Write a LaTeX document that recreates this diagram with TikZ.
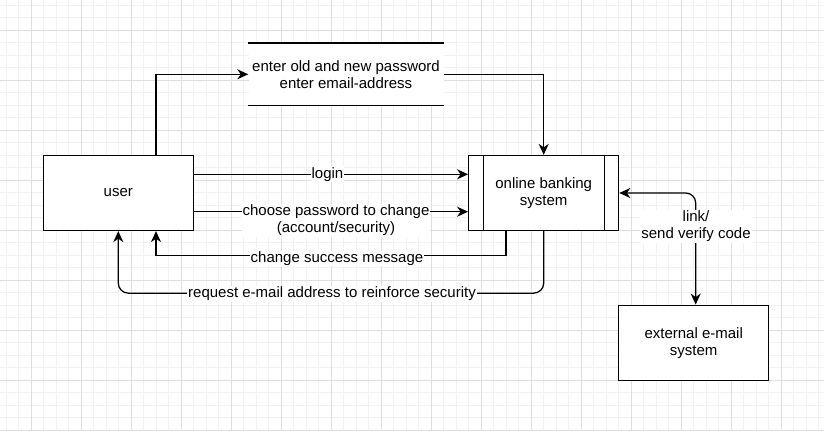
\documentclass[tikz,border=0pt]{standalone}
\usepackage{fontspec}
\setmainfont{Liberation Sans}
\usetikzlibrary{arrows.meta}
\definecolor{gminor}{HTML}{F2F2F2}
\definecolor{gmajor}{HTML}{DEDEDE}
\begin{document}
\begin{tikzpicture}[x=1pt,y=-1pt,
  font=\fontsize{15}{17}\selectfont,
  box/.style={draw, line width=1.25pt, fill=white, minimum width=150pt, minimum height=75pt, align=center, inner sep=0pt},
  arr/.style={line width=1.25pt, -{Stealth[length=11pt,width=10pt,inset=3.5pt]}},
  arrtwo/.style={line width=1.25pt, {Stealth[length=11pt,width=10pt,inset=3.5pt]}-{Stealth[length=11pt,width=10pt,inset=3.5pt]}},
  lbl/.style={fill=white, inner sep=1pt, align=center}]
\useasboundingbox (0,0) rectangle (824,431);
\fill[white] (0,0) rectangle (824,431);
% grid
\foreach \x in {6,18.5,...,824} \draw[gminor, line width=0.8pt] (\x,0) -- (\x,431);
\foreach \y in {5,17.5,...,431} \draw[gminor, line width=0.8pt] (0,\y) -- (824,\y);
\foreach \x in {31,81,...,824} \draw[gmajor, line width=0.8pt] (\x,0) -- (\x,431);
\foreach \y in {30,80,...,431} \draw[gmajor, line width=0.8pt] (0,\y) -- (824,\y);
% nodes
\node[box] (user) at (118.3,193) {user};
\node[box] (sys) at (543.7,193) {online banking\\system};
\draw[line width=1.25pt] ([xshift=15.5pt]sys.north west) -- ([xshift=15.5pt]sys.south west);
\draw[line width=1.25pt] ([xshift=-15pt]sys.north east) -- ([xshift=-15pt]sys.south east);
\node[box] (ext) at (693.7,342.7) {external e-mail\\system};
\node[fill=white, minimum width=195pt, minimum height=62pt, align=center, inner sep=0pt] (store) at (346,74.3) {enter old and new password\\enter email-address};
\draw[line width=1.25pt] (store.north west) -- (store.north east);
\draw[line width=1.25pt] (store.south west) -- (store.south east);
% connectors
\draw[arr] ([xshift=37.7pt]user.north) |- (store.west);
\draw[arr] (store.east) -| (sys.north);
\draw[arr] ([yshift=18.7pt]user.east) -- ([yshift=18.7pt]sys.west) node[lbl, pos=0.487] {login};
\draw[arr] ([yshift=-18.7pt]user.east) -- ([yshift=-18.7pt]sys.west);
\node[lbl] (choose) at (336,220.5) {choose password to change\\(account/security)};
\draw[arr] ([xshift=-37.7pt]sys.south) -- ++(0,24.7) -| ([xshift=37.7pt]user.south);
\node[lbl] (csm) at (337,258.5) {change success message};
\draw[arr, rounded corners=10pt] (sys.south) -- ++(0,62) -| (user.south);
\node[lbl] (req) at (332,294) {request e-mail address to reinforce security};
\draw[arrtwo, rounded corners=10pt] (sys.east) -| ([xshift=2pt]ext.north);
\node[lbl] (link) at (696,226.5) {link/\\send verify code};
\end{tikzpicture}
\end{document}
